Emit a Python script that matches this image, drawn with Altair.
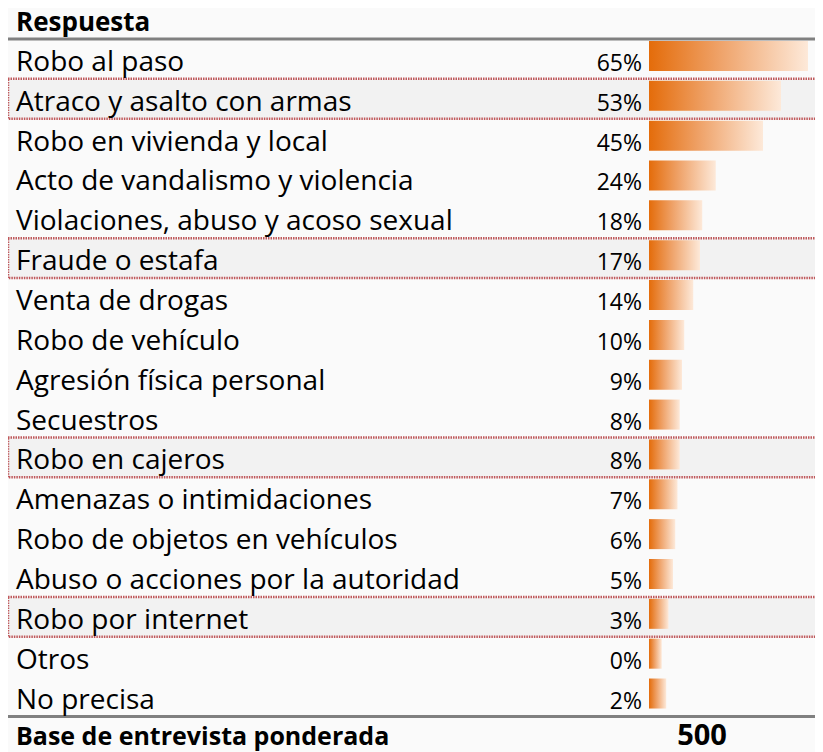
import altair as alt
import pandas as pd

# ---- data ----
header_label = "Respuesta"
rows = [
    "Robo al paso",
    "Atraco y asalto con armas",
    "Robo en vivienda y local",
    "Acto de vandalismo y violencia",
    "Violaciones, abuso y acoso sexual",
    "Fraude o estafa",
    "Venta de drogas",
    "Robo de vehículo",
    "Agresión física personal",
    "Secuestros",
    "Robo en cajeros",
    "Amenazas o intimidaciones",
    "Robo de objetos en vehículos",
    "Abuso o acciones por la autoridad",
    "Robo por internet",
    "Otros",
    "No precisa",
]
values = [65, 53, 45, 24, 18, 17, 14, 10, 9, 8, 8, 7, 6, 5, 3, 0, 2]
highlighted = [
    "Atraco y asalto con armas",
    "Fraude o estafa",
    "Robo en cajeros",
    "Robo por internet",
]
footer_label = "Base de entrevista ponderada"
footer_value = "500"

AXIS_MIN = -5.67   # bar stub start of the original value axis
AXIS_MAX = 71.67

df = pd.DataFrame({"row": rows, "value": values})
df_hl = pd.DataFrame({"row": highlighted})
df_lines = pd.DataFrame({"row": [header_label, rows[-1]]})
df_head = pd.DataFrame({"row": [header_label]})
df_foot = pd.DataFrame({"row": [footer_label]})
df_foot_val = pd.DataFrame({"row": [footer_label], "txt": [footer_value]})

domain = [header_label] + rows + [footer_label]
yscale = alt.Scale(domain=domain, range=[-8.85, 748.3], paddingInner=0, paddingOuter=0)
xscale = alt.Scale(domain=[AXIS_MIN, AXIS_MAX], range=[641, 815], zero=False, nice=False)

FONT = "Open Sans"
W = 807
H = 744

hl = alt.Chart(df_hl).mark_rect(
    fill="#F2F2F2", stroke="#B9474A", strokeDash=[1.5, 1], strokeWidth=2.5, strokeOpacity=0.9
).encode(
    y=alt.Y("row:N", scale=yscale, axis=None),
    x=alt.value(0),
    x2=alt.value(W + 8),
)

lines = alt.Chart(df_lines).mark_rule(color="#808080", strokeWidth=3).encode(
    y=alt.Y("row:N", scale=yscale, axis=None, bandPosition=1),
    x=alt.value(0),
    x2=alt.value(W),
)

grad = alt.LinearGradient(
    gradient="linear",
    stops=[
        alt.GradientStop(color="#E46C0A", offset=0),
        alt.GradientStop(color="#EFA36A", offset=0.45),
        alt.GradientStop(color="#FDE9D9", offset=1),
    ],
    x1=0, x2=1, y1=0, y2=0,
)

bars = alt.Chart(df).mark_bar(color=grad, height=30, yOffset=-3).encode(
    y=alt.Y("row:N", scale=yscale, axis=None),
    x=alt.X("value:Q", scale=xscale, axis=None),
    x2=alt.datum(AXIS_MIN),
)

labels = alt.Chart(df).mark_text(
    align="left", baseline="alphabetic", font=FONT, fontSize=28, color="#000000", dy=12
).encode(
    y=alt.Y("row:N", scale=yscale, axis=None),
    x=alt.value(8),
    text="row:N",
)

pct = alt.Chart(df).transform_calculate(
    txt="format(datum.value, '.0f') + '%'"
).transform_calculate(
    value=str(AXIS_MIN)
).mark_text(
    align="right", baseline="alphabetic", font=FONT, fontSize=23, color="#000000", dx=-7, dy=12
).encode(
    y=alt.Y("row:N", scale=yscale, axis=None),
    x=alt.X("value:Q", scale=xscale, axis=None),
    text="txt:N",
)

head = alt.Chart(df_head).mark_text(
    align="left", baseline="alphabetic", font=FONT, fontSize=26, fontWeight="bold", color="#000000", dy=12
).encode(
    y=alt.Y("row:N", scale=yscale, axis=None),
    x=alt.value(8),
    text="row:N",
)

foot = alt.Chart(df_foot).mark_text(
    align="left", baseline="alphabetic", font=FONT, fontSize=25, fontWeight="bold", color="#000000", dy=9
).encode(
    y=alt.Y("row:N", scale=yscale, axis=None),
    x=alt.value(8),
    text="row:N",
)

foot_val = alt.Chart(df_foot_val).mark_text(
    align="center", baseline="alphabetic", font=FONT, fontSize=29, fontWeight="bold", color="#000000", dy=9
).encode(
    y=alt.Y("row:N", scale=yscale, axis=None),
    x=alt.value(694),
    text="txt:N",
)

chart = alt.layer(hl, lines, bars, labels, pct, head, foot, foot_val).properties(
    width=W,
    height=H,
    padding=0,
    autosize=alt.AutoSizeParams(type="none"),
    background="#FAFAFA",
).configure_view(stroke=None)

chart.save("out.html", embed_options={"renderer": "svg", "actions": False})
